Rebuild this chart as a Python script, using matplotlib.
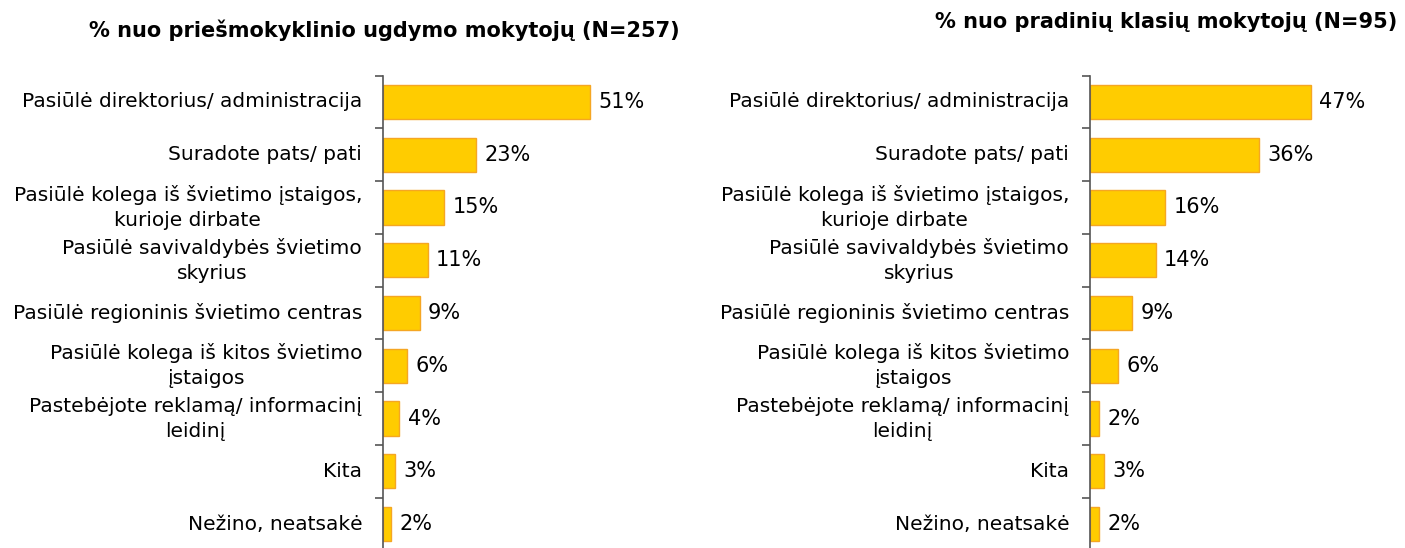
import matplotlib
matplotlib.use("Agg")
import matplotlib.pyplot as plt

categories = [
    "Pasiūlė direktorius/ administracija",
    "Suradote pats/ pati",
    "Pasiūlė kolega iš švietimo įstaigos,\nkurioje dirbate",
    "Pasiūlė savivaldybės švietimo\nskyrius",
    "Pasiūlė regioninis švietimo centras",
    "Pasiūlė kolega iš kitos švietimo\nįstaigos",
    "Pastebėjote reklamą/ informacinį\nleidinį",
    "Kita",
    "Nežino, neatsakė",
]
preschool_values = [51, 23, 15, 11, 9, 6, 4, 3, 2]
primary_values = [47, 36, 16, 14, 9, 6, 2, 3, 2]
title_left = "% nuo priešmokyklinio ugdymo mokytojų (N=257)"
title_right = "% nuo pradinių klasių mokytojų (N=95)"

W, H = 1405, 548
fig = plt.figure(figsize=(W / 100, H / 100), dpi=100)
plt.rcParams['font.family'] = ['DejaVu Sans']

bar_face = "#FFCC00"
bar_edge = "#F5A623"
fs = 14.5
vfs = 15


def make_panel(left_px, width_px, xmax, values):
    top_px, bot_px = 75.6, 550.4
    ax = fig.add_axes([left_px / W, 1 - bot_px / H, width_px / W, (bot_px - top_px) / H])
    y = list(range(len(categories)))
    ax.barh(y, values, height=0.65, color=bar_face, edgecolor=bar_edge, linewidth=1)
    ax.set_ylim(len(categories) - 0.5, -0.5)
    ax.set_xlim(0, xmax)
    for s in ["top", "right", "bottom"]:
        ax.spines[s].set_visible(False)
    ax.spines["left"].set_color("#555555")
    ax.spines["left"].set_linewidth(1.2)
    ax.set_xticks([])
    ax.set_yticks([i - 0.5 for i in range(len(categories) + 1)], minor=False)
    ax.set_yticklabels([])
    ax.tick_params(axis="y", length=6, width=1.2, color="#555555", direction="out")
    for i, lab in enumerate(categories):
        ax.annotate(lab, xy=(0, i), xycoords=("axes fraction", "data"),
                    xytext=(-15, 0), textcoords="offset points", ha="right", va="center",
                    multialignment="center", fontsize=fs, color="black", linespacing=1.4)
    for i, v in enumerate(values):
        ax.annotate(f"{v}%", xy=(v, i), xytext=(6, 0), textcoords="offset points",
                    ha="left", va="center", fontsize=vfs, color="black")
    return ax


make_panel(383, 297, 297 / 4.06, preschool_values)
make_panel(1090, 310, 310 / 4.7, primary_values)

fig.text(384 / W, 1 - 30 / H, title_left, ha="center", va="center", fontsize=15, fontweight="bold")
fig.text(1166 / W, 1 - 22 / H, title_right, ha="center", va="center", fontsize=15, fontweight="bold")

fig.savefig("out.png", dpi=100)
